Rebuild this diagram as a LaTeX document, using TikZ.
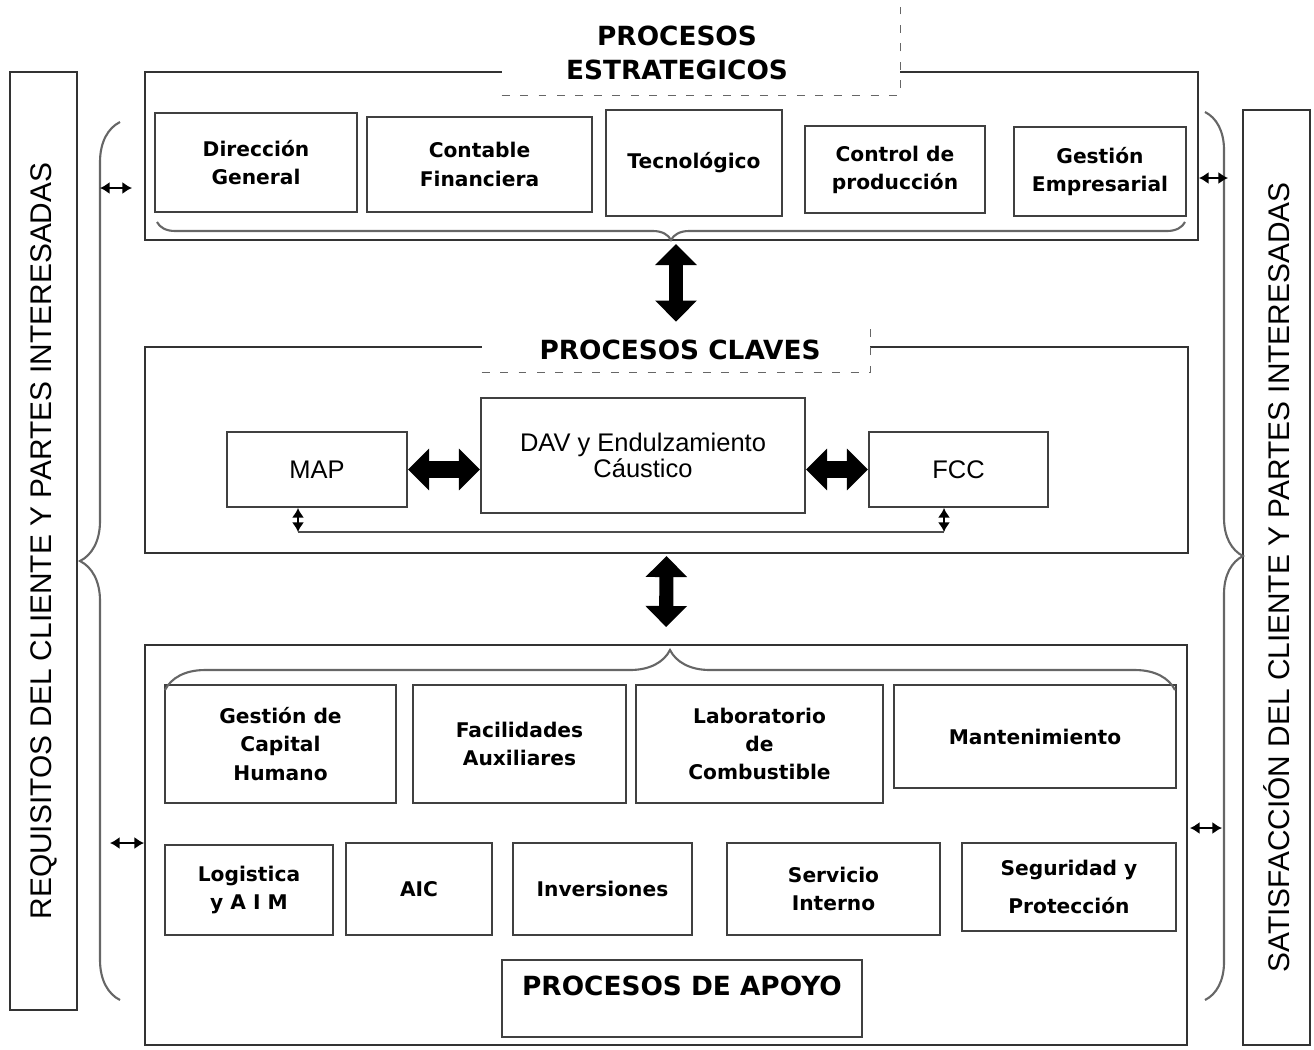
\documentclass[tikz,border=0pt]{standalone}
\usepackage{fontspec}
\newfontfamily\verd{DejaVu Sans}
\newfontfamily\ari{Liberation Sans}
\usetikzlibrary{arrows.meta, decorations.pathreplacing}

\tikzset{
	marco/.style={draw=black!80, line width=1.1pt, inner sep=0pt},
	proc/.style={draw=black!75, line width=1.1pt, align=center, inner sep=1pt,
		font=\verd\bfseries\fontsize{11.5}{16}\selectfont},
	clave/.style={proc, font=\ari\fontsize{14.5}{15}\selectfont},
	blanco/.style={fill=white, inner sep=0pt},
	titulo/.style={align=center, inner sep=0pt, font=\verd\bfseries\fontsize{15}{19.5}\selectfont},
	lateral/.style={rotate=90, inner sep=0pt, font=\ari\fontsize{17}{17}\selectfont},
	guion/.style={draw=black!60, line width=0.8pt, dash pattern=on 4.5pt off 6pt},
	llave/.style={draw=black!60, line width=1.2pt, decorate, decoration={brace, amplitude=#1}},
	gorda/.style={draw=black, line width=#1,
		{Triangle[width=23pt,length=12pt]}-{Triangle[width=23pt,length=12pt]}},
	fina/.style={draw=black, line width=1.2pt, {Latex[length=5.5pt,width=7pt]}-{Latex[length=5.5pt,width=7pt]}},
}

\begin{document}
\begin{tikzpicture}[x=0.02cm, y=-0.02cm]
	\def\unidad{0.02cm}
	\useasboundingbox (0,0) rectangle (1314,1049);
	
	% big frames
	\node[marco, minimum width=1053*\unidad, minimum height=168*\unidad] (estr) at (671.5,156) {};
	\node[marco, minimum width=1043*\unidad, minimum height=206*\unidad] (clv) at (666.5,450) {};
	\node[marco, minimum width=1042*\unidad, minimum height=400*\unidad] (apy) at (666,845) {};
	\node[marco, minimum width=67*\unidad, minimum height=938*\unidad] (req) at (43.5,541) {};
	\node[marco, minimum width=67*\unidad, minimum height=935*\unidad] (sat) at (1276.5,577.5) {};
	\node[lateral] at (req.center) {REQUISITOS DEL CLIENTE Y PARTES INTERESADAS};
	\node[lateral] at (sat.center) {SATISFACCIÓN DEL CLIENTE Y PARTES INTERESADAS};
	
	% titles over the frames
	\node[blanco, minimum width=398*\unidad, minimum height=90*\unidad] (tEstr) at (701,50) {};
	\node[titulo] at (677,53) {PROCESOS\\ESTRATEGICOS};
	\draw[guion] (tEstr.south west) -- (tEstr.south east) -- (tEstr.north east);
	\node[blanco, minimum width=388*\unidad, minimum height=50*\unidad] (tClv) at (676,347) {};
	\node[titulo] at (680,350) {PROCESOS CLAVES};
	\draw[guion] (tClv.south west) -- (tClv.south east) -- (tClv.north east);
	
	% process boxes
	\foreach \nm/\xa/\ya/\xb/\yb/\txt in {
		dir/155/113/357/212/{Dirección\\General},
		cont/367/117/592/212/{Contable\\Financiera},
		tec/606/110/782/216/{Tecnológico},
		ctrl/805/126/985/213/{Control de\\producción},
		gest/1014/127/1186/216/{Gestión\\Empresarial},
		gch/165/685/396/803/{Gestión de\\Capital\\Humano},
		fac/413/685/626/803/{Facilidades\\Auxiliares},
		lab/636/685/883/803/{Laboratorio\\de\\Combustible},
		mant/894/685/1176/788/{Mantenimiento},
		log/165/845/333/935/{Logistica\\y A I M},
		aic/346/843/492/935/{AIC},
		inv/513/843/692/935/{Inversiones},
		serv/727/843/940/935/{Servicio\\Interno},
		seg/962/843/1176/931/{Seguridad y\\[6pt]Protección}} {
		\node[proc, minimum width={(\xb-\xa)*\unidad}, minimum height={(\yb-\ya)*\unidad}]
			(\nm) at ({(\xa+\xb)/2},{(\ya+\yb)/2}) {\txt};
	}
	\node[proc, minimum width=360*\unidad, minimum height=77*\unidad, text depth=0.5cm,
		font=\verd\bfseries\fontsize{15}{18}\selectfont] (pap) at (682,998.5) {PROCESOS DE APOYO};
	\foreach \nm/\xa/\ya/\xb/\yb/\txt in {
		map/227/432/407/507/{MAP},
		dav/481/398/805/513/{DAV y Endulzamiento\\Cáustico},
		fcc/869/432/1048/507/{FCC}} {
		\node[clave, minimum width={(\xb-\xa)*\unidad}, minimum height={(\yb-\ya)*\unidad}]
			(\nm) at ({(\xa+\xb)/2},{(\ya+\yb)/2}) {\txt};
	}
	
	% braces
	\draw[llave=0.36cm] (1185,222) -- (157,222);
	\draw[llave=0.8cm] (165,690) -- (1175,690);
	\draw[llave=0.8cm] (120,1000) -- (120,122);
	\draw[llave=0.76cm] (1205,112) -- (1205,1000);
	
	% thick arrows
	\draw[gorda=8pt, shorten <=3*\unidad] (tClv.north |- estr.south) -- (tClv.north);
	\draw[gorda=8pt, shorten <=2*\unidad, shorten >=17*\unidad] (clv.south) -- (apy.north);
	\draw[gorda=10pt] (map.east) -- (map.east -| dav.west);
	\draw[gorda=10pt] (fcc.west -| dav.east) -- (fcc.west);
	
	% thin arrows
	\coordinate (u1) at (298,532);
	\coordinate (u2) at (944,532);
	\draw[fina] (map.south -| u1) -- (u1);
	\draw[fina] (fcc.south -| u2) -- (u2);
	\draw[draw=black!70, line width=0.9pt] (u1) -- (u2);
	\coordinate (l1) at (100,188);
	\coordinate (l2) at (110,843);
	\coordinate (r1) at (1228,178);
	\coordinate (r2) at (1222,828);
	\draw[fina] (l1) -- ++(32,0);
	\draw[fina] (l2) -- (apy.west |- l2);
	\draw[fina] (estr.east |- r1) -- (r1);
	\draw[fina] (r2) -- ++(-32,0);
\end{tikzpicture}
\end{document}
